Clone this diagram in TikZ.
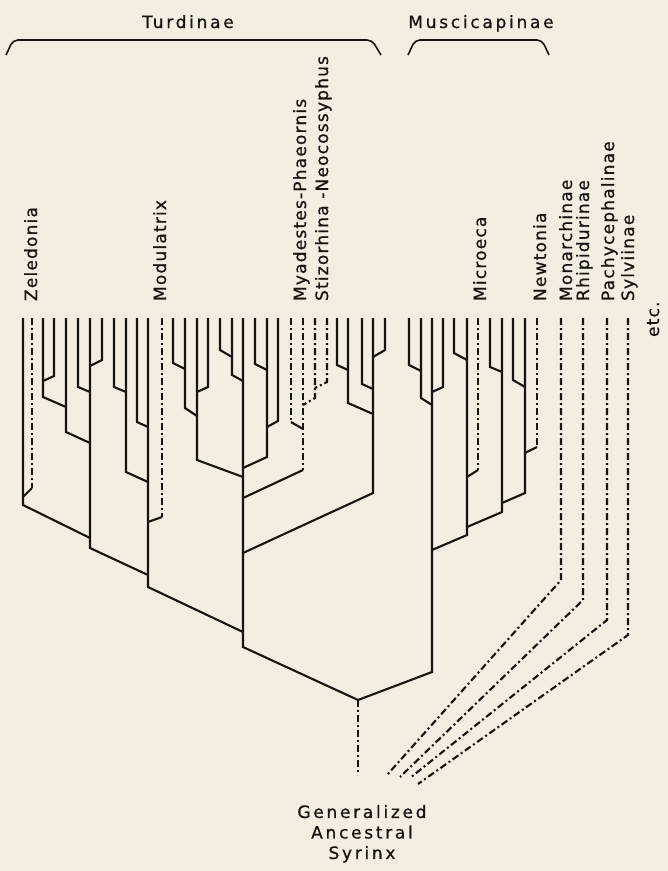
\documentclass[tikz,border=0pt]{standalone}
\usepackage{fontspec}
\setmainfont[LetterSpace=7,FakeBold=0.8]{DejaVu Sans}
\newfontfamily\widefont[LetterSpace=16,FakeBold=0.8]{DejaVu Sans}
\definecolor{paper}{RGB}{244,237,225}
\definecolor{ink}{RGB}{22,20,18}

\begin{document}
\begin{tikzpicture}[x=1pt, y=-1pt, line width=2.1pt, draw=ink,
    every node/.append style={font=\fontsize{17}{20}\selectfont, text=ink, inner sep=0pt},
    dashdot/.style={dash pattern=on 7pt off 3pt on 2pt off 3pt},
    taxon/.style={rotate=90, anchor=base west},
    group/.style={anchor=base, font=\widefont\fontsize{17}{20}\selectfont}]
  \fill[paper] (0,0) rectangle (668,871);
  \useasboundingbox (0,0) rectangle (668,871);

  % tips
  \foreach \x [count=\i] in {23,32,43,54,66,78,90,102,114,126,137,148,162,173,185,197,
      208,220,232,243,255,267,278,291,303,315,327,337,348,362,373,385,
      409,421,432,443,454,467,478,490,502,513,525,537,561,583,607,628}
    \coordinate (t\i) at (\x,318);
  \coordinate (root) at (358,700);
  \coordinate (base) at (358,775);
  \coordinate (o45) at (387,775);
  \coordinate (o46) at (400,777);
  \coordinate (o47) at (410,778);
  \coordinate (o48) at (418,784);

  % solid branches: tip / knee / parent / join
  \foreach \t/\k/\p/\j in {1/505/7/538, 3/397/5/407, 4/376/3/381, 5/432/7/443,
      6/387/7/392, 7/548/12/575, 8/360/7/366, 9/387/10/392, 10/472/12/482,
      11/422/12/427, 12/587/20/632, 14/363/15/369, 15/408/16/416, 16/460/20/477,
      17/387/16/392, 18/350/19/357, 19/375/20/381, 21/364/22/370, 22/457/20/468,
      23/421/22/427, 28/365/29/370, 29/403/31/414, 30/384/31/389, 31/493/20/553,
      32/350/31/357, 33/365/34/371, 34/398/35/405, 36/387/35/392, 37/353/38/360,
      38/535/35/550, 40/367/41/372, 41/512/38/527, 42/380/43/387, 43/493/41/503}
    \draw (t\t) -- (t\t |- 0,\k) -- (t\p |- 0,\j);

  % dash-dot tips, solid join
  \foreach \t/\k/\p/\j in {2/488/1/497, 13/517/12/522, 24/422/25/429,
      25/470/20/498, 39/470/38/477, 44/447/43/453}{
    \draw[dashdot] (t\t) -- (t\t |- 0,\k);
    \draw (t\t |- 0,\k) -- (t\p |- 0,\j);}

  % dash-dot all the way
  \foreach \t/\k/\p/\j in {26/398/25/405, 27/382/26/388}
    \draw[dashdot] (t\t) -- (t\t |- 0,\k) -- (t\p |- 0,\j);

  % stems to the root
  \draw (t20) -- (t20 |- 0,647) -- (root);
  \draw (t35) -- (t35 |- 0,672) -- (root);
  \draw[dashdot] (root) -- (base);

  % other subfamilies
  \foreach \t/\k in {45/580, 46/600, 47/620, 48/635}
    \draw[dashdot] (t\t) -- (t\t |- 0,\k) -- (o\t);

  % brackets
  \draw[line width=1.6pt, rounded corners=5pt] (6,55) -- (13,40) -- (372,40) -- (381,55);
  \draw[line width=1.6pt, rounded corners=5pt] (408,55) -- (415,40) -- (542,40) -- (549,55);
  \node[group] (turd) at (188,28) {Turdinae};
  \node[group] (musc) at (481,28) {Muscicapinae};

  % taxa
  \foreach \name/\x in {Zeledonia/37, Modulatrix/166, Myadestes-Phaeornis/306,
      Stizorhina -Neocossyphus/328, Microeca/486, Newtonia/546, Monarchinae/572,
      Rhipidurinae/589, Pachycephalinae/614, Sylviinae/634}
    \node[taxon] at (\x,302) {\name};
  \node[taxon] (etc) at (659,338) {etc.};

  \node[anchor=north, align=center, font=\widefont\fontsize{17}{20.5}\selectfont]
    (syrinx) at (362,804) {Generalized\\Ancestral\\Syrinx};
\end{tikzpicture}
\end{document}
